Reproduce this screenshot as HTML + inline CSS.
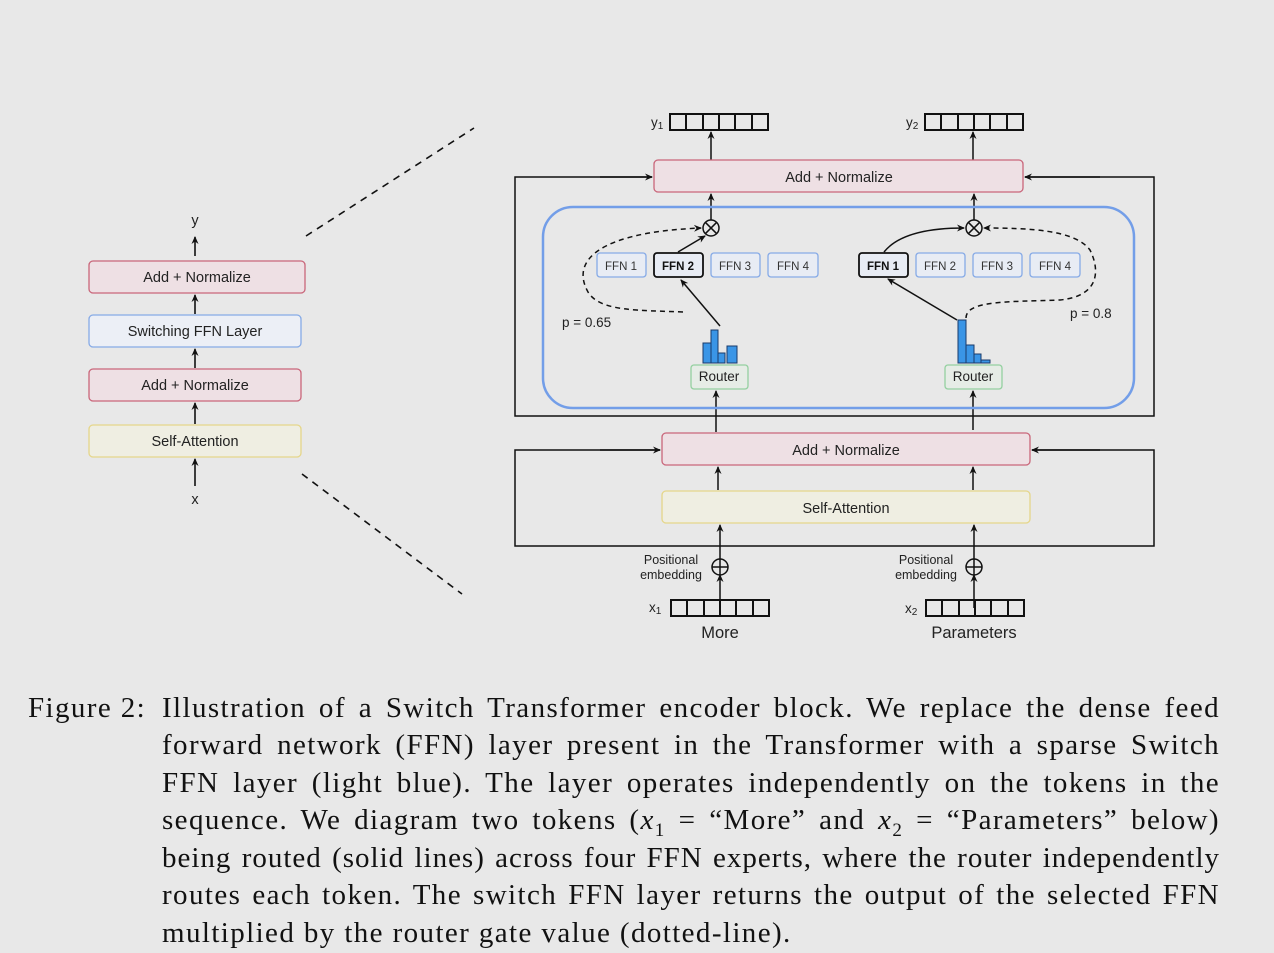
<!DOCTYPE html>
<html><head><meta charset="utf-8"><style>
html,body{margin:0;padding:0;background:#e8e8e8;width:1274px;height:953px;overflow:hidden}
svg{position:absolute;left:0;top:0}
.cap{position:absolute;font-family:"Liberation Serif",serif;font-size:29px;letter-spacing:1.4px;color:#111;white-space:nowrap}
.ln{position:absolute;left:162px;width:1058px;text-align:justify;text-align-last:justify;height:37px;line-height:37px}
</style></head><body>
<svg width="1274" height="953" viewBox="0 0 1274 953" font-family="Liberation Sans, sans-serif">
<defs><marker id="a" markerWidth="8" markerHeight="8" refX="7" refY="4" orient="auto" markerUnits="userSpaceOnUse"><path d="M0,0.5 L8,4 L0,7.5 L2.5,4 z" fill="#111"/></marker></defs>
<g stroke="#111" stroke-width="1.6" fill="none">
<line x1="195" y1="256" x2="195" y2="237" marker-end="url(#a)"/>
<line x1="195" y1="314" x2="195" y2="295" marker-end="url(#a)"/>
<line x1="195" y1="368" x2="195" y2="349" marker-end="url(#a)"/>
<line x1="195" y1="424" x2="195" y2="403" marker-end="url(#a)"/>
<line x1="195" y1="486" x2="195" y2="459" marker-end="url(#a)"/>
<line x1="306" y1="236" x2="474" y2="128" stroke-dasharray="7,6"/>
<line x1="302" y1="474" x2="462" y2="594" stroke-dasharray="7,6"/>
</g>
<rect x="89" y="261" width="216" height="32" rx="4" fill="#eee0e4" stroke="#c9667a" stroke-width="1.3"/>
<rect x="89" y="315" width="212" height="32" rx="4" fill="#eceff6" stroke="#86aae6" stroke-width="1.3"/>
<rect x="89" y="369" width="212" height="32" rx="4" fill="#eee0e4" stroke="#c9667a" stroke-width="1.3"/>
<rect x="89" y="425" width="212" height="32" rx="4" fill="#efeee2" stroke="#e5d68a" stroke-width="1.3"/>
<g font-size="14.5" fill="#222" text-anchor="middle">
<text x="195" y="225">y</text>
<text x="197" y="282">Add + Normalize</text>
<text x="195" y="336">Switching FFN Layer</text>
<text x="195" y="390">Add + Normalize</text>
<text x="195" y="446">Self-Attention</text>
<text x="195" y="504">x</text>
</g>
<g stroke="#111" stroke-width="2" fill="none">
<rect x="670" y="114" width="98" height="16"/><path d="M686,114v16M703,114v16M719,114v16M735,114v16M752,114v16"/>
<rect x="925" y="114" width="98" height="16"/><path d="M941,114v16M958,114v16M974,114v16M990,114v16M1007,114v16"/>
<rect x="671" y="600" width="98" height="16"/><path d="M687,600v16M704,600v16M720,600v16M736,600v16M753,600v16"/>
<rect x="926" y="600" width="98" height="16"/><path d="M942,600v16M959,600v16M975,600v16M991,600v16M1008,600v16"/>
</g>
<g stroke="#111" stroke-width="1.5" fill="none">
<line x1="711" y1="160" x2="711" y2="132" marker-end="url(#a)"/>
<line x1="973" y1="160" x2="973" y2="132" marker-end="url(#a)"/>
<path d="M652,177 H515 V416 H1154 V177 H1025" />
<line x1="600" y1="177" x2="652" y2="177" marker-end="url(#a)"/>
<line x1="1100" y1="177" x2="1025" y2="177" marker-end="url(#a)"/>
<path d="M660,450 H515 V546 H1154 V450 H1032"/>
<line x1="600" y1="450" x2="660" y2="450" marker-end="url(#a)"/>
<line x1="1100" y1="450" x2="1032" y2="450" marker-end="url(#a)"/>
<line x1="711" y1="220" x2="711" y2="194" marker-end="url(#a)"/>
<line x1="974" y1="220" x2="974" y2="194" marker-end="url(#a)"/>
<line x1="716" y1="432" x2="716" y2="391" marker-end="url(#a)"/>
<line x1="973" y1="430" x2="973" y2="391" marker-end="url(#a)"/>
<line x1="718" y1="490" x2="718" y2="467" marker-end="url(#a)"/>
<line x1="973" y1="490" x2="973" y2="467" marker-end="url(#a)"/>
<line x1="720" y1="559" x2="720" y2="525" marker-end="url(#a)"/>
<line x1="974" y1="559" x2="974" y2="525" marker-end="url(#a)"/>
<line x1="720" y1="608" x2="720" y2="575" marker-end="url(#a)"/>
<line x1="974" y1="608" x2="974" y2="575" marker-end="url(#a)"/>
<circle cx="720" cy="567" r="8"/><path d="M712,567h16M720,559v16"/>
<circle cx="974" cy="567" r="8"/><path d="M966,567h16M974,559v16"/>
</g>
<rect x="654" y="160" width="369" height="32" rx="4" fill="#eee0e4" stroke="#c9667a" stroke-width="1.3"/>
<rect x="543" y="207" width="591" height="201" rx="30" fill="none" stroke="#739ee8" stroke-width="2.5"/>
<rect x="662" y="433" width="368" height="32" rx="4" fill="#eee0e4" stroke="#c9667a" stroke-width="1.3"/>
<rect x="662" y="491" width="368" height="32" rx="4" fill="#efeee2" stroke="#e5d68a" stroke-width="1.3"/>
<g fill="#e8ecf4" stroke="#86aae6" stroke-width="1.3">
<rect x="597" y="253" width="49" height="24" rx="3"/>
<rect x="711" y="253" width="49" height="24" rx="3"/>
<rect x="768" y="253" width="50" height="24" rx="3"/>
<rect x="916" y="253" width="49" height="24" rx="3"/>
<rect x="973" y="253" width="49" height="24" rx="3"/>
<rect x="1030" y="253" width="50" height="24" rx="3"/>
</g>
<g fill="#e8ecf4" stroke="#111" stroke-width="1.8">
<rect x="654" y="253" width="49" height="24" rx="3"/>
<rect x="859" y="253" width="49" height="24" rx="3"/>
</g>
<g font-size="11.5" fill="#333" text-anchor="middle">
<text x="621" y="270">FFN 1</text><text x="678" y="270" font-weight="bold" fill="#111">FFN 2</text>
<text x="735" y="270">FFN 3</text><text x="793" y="270">FFN 4</text>
<text x="883" y="270" font-weight="bold" fill="#111">FFN 1</text><text x="940" y="270">FFN 2</text>
<text x="997" y="270">FFN 3</text><text x="1055" y="270">FFN 4</text>
</g>
<g stroke="#111" stroke-width="1.5" fill="none">
<circle cx="711" cy="228" r="8"/><path d="M705.3,222.3l11.4,11.4M716.7,222.3l-11.4,11.4"/>
<circle cx="974" cy="228" r="8"/><path d="M968.3,222.3l11.4,11.4M979.7,222.3l-11.4,11.4"/>
<line x1="720" y1="326" x2="681" y2="280" marker-end="url(#a)"/>
<line x1="678" y1="252" x2="705" y2="236" marker-end="url(#a)"/>
<line x1="957" y1="320" x2="888" y2="279" marker-end="url(#a)"/>
<path d="M884,252 C900,232 935,228 964,228" marker-end="url(#a)"/>
<path d="M683,312 C640,310 600,312 588,292 C570,260 600,232 701,228" stroke-dasharray="5,4" marker-end="url(#a)"/>
<path d="M966,318 C966,300 1010,302 1060,300 C1100,296 1100,270 1090,250 C1075,230 1030,228 984,228" stroke-dasharray="5,4" marker-end="url(#a)"/>
</g>
<g fill="#3a95e6" stroke="#1a3a6a" stroke-width="1">
<rect x="703" y="343" width="8" height="20"/><rect x="711" y="330" width="7" height="33"/><rect x="718" y="353" width="7" height="10"/><rect x="727" y="346" width="10" height="17"/>
<rect x="958" y="320" width="8" height="43"/><rect x="966" y="345" width="8" height="18"/><rect x="974" y="354" width="7" height="9"/><rect x="981" y="360" width="9" height="3"/>
</g>
<rect x="691" y="365" width="57" height="24" rx="3" fill="#e6ece6" stroke="#94d0a0" stroke-width="1.3"/>
<rect x="945" y="365" width="57" height="24" rx="3" fill="#e6ece6" stroke="#94d0a0" stroke-width="1.3"/>
<g font-size="14.5" fill="#222" text-anchor="middle">
<text x="839" y="182">Add + Normalize</text>
<text x="846" y="455">Add + Normalize</text>
<text x="846" y="513">Self-Attention</text>
<text x="720" y="638" font-size="16.5">More</text>
<text x="974" y="638" font-size="16.5">Parameters</text>
</g>
<g font-size="13.5" fill="#222">
<text x="719" y="381" text-anchor="middle">Router</text>
<text x="973" y="381" text-anchor="middle">Router</text>
<text x="562" y="327">p = 0.65</text>
<text x="1070" y="318">p = 0.8</text>
<text x="651" y="127">y<tspan font-size="10" dy="2">1</tspan></text>
<text x="906" y="127">y<tspan font-size="10" dy="2">2</tspan></text>
<text x="649" y="612">x<tspan font-size="10" dy="2">1</tspan></text>
<text x="905" y="613">x<tspan font-size="10" dy="2">2</tspan></text>
</g>
<g font-size="12.5" fill="#222" text-anchor="middle">
<text x="671" y="564">Positional</text><text x="671" y="579">embedding</text>
<text x="926" y="564">Positional</text><text x="926" y="579">embedding</text>
</g>
</svg>
<div class="cap">
<div style="position:absolute;left:28px;top:690px;line-height:37px">Figure 2:</div>
<div class="ln" style="top:690px">Illustration of a Switch Transformer encoder block. We replace the dense feed</div>
<div class="ln" style="top:727px">forward network (FFN) layer present in the Transformer with a sparse Switch</div>
<div class="ln" style="top:765px">FFN layer (light blue). The layer operates independently on the tokens in the</div>
<div class="ln" style="top:802px">sequence. We diagram two tokens (<i>x</i><sub style="font-size:19px;line-height:0">1</sub> = “More” and <i>x</i><sub style="font-size:19px;line-height:0">2</sub> = “Parameters” below)</div>
<div class="ln" style="top:840px;letter-spacing:1px">being routed (solid lines) across four FFN experts, where the router independently</div>
<div class="ln" style="top:877px">routes each token. The switch FFN layer returns the output of the selected FFN</div>
<div style="position:absolute;left:162px;top:915px;line-height:37px">multiplied by the router gate value (dotted-line).</div>
</div>
</body></html>
